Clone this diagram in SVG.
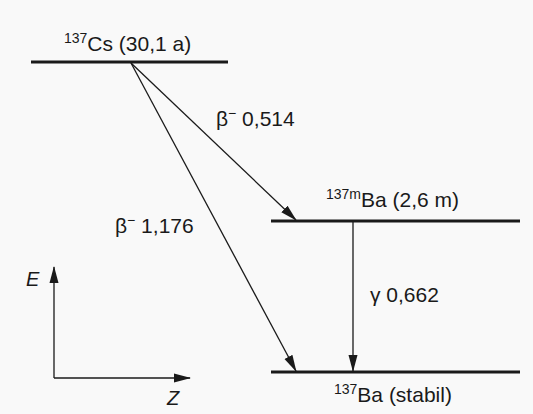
<svg xmlns="http://www.w3.org/2000/svg" width="533" height="414" viewBox="0 0 533 414">
<defs>
<style>
text{font-family:"Liberation Sans",Arial,sans-serif;font-size:21px;fill:#1a1a1a}
.sup{font-size:14px}
.lvl{stroke:#1a1a1a;stroke-width:3;fill:none}
.arr{stroke:#1a1a1a;stroke-width:1.3;fill:none;marker-end:url(#ah)}
.ax{font-style:italic;font-size:20px}
</style>
<marker id="ah" markerUnits="userSpaceOnUse" markerWidth="17" markerHeight="10" viewBox="0 0 17 10" refX="16" refY="5" orient="auto">
<path d="M0,0.5 L17,5 L0,9.5 Z" fill="#1a1a1a"/>
</marker>
</defs>
<rect width="533" height="414" fill="#f9f9f9"/>
<g id="cs137">
<line class="lvl" x1="31" y1="62" x2="228" y2="62"/>
<text x="64" y="51"><tspan class="sup" dy="-8">137</tspan><tspan dy="8">Cs (30,1 a)</tspan></text>
</g>
<g id="ba137m">
<line class="lvl" x1="271" y1="221" x2="520" y2="221"/>
<text x="326" y="207"><tspan class="sup" dy="-8">137m</tspan><tspan dy="8">Ba (2,6 m)</tspan></text>
</g>
<g id="ba137">
<line class="lvl" x1="271" y1="372" x2="520" y2="372"/>
<text x="334" y="402"><tspan class="sup" dy="-8">137</tspan><tspan dy="8">Ba (stabil)</tspan></text>
</g>
<g id="axes">
<line class="arr" x1="54" y1="378" x2="54" y2="267"/>
<line class="arr" x1="54" y1="378" x2="190" y2="378"/>
<text class="ax" x="26" y="286">E</text>
<text class="ax" x="167" y="405">Z</text>
</g>
<g id="connectors">
<line class="arr" x1="131" y1="63" x2="296" y2="220"/>
<line class="arr" x1="131" y1="63" x2="296" y2="371"/>
<line class="arr" x1="353" y1="222" x2="353" y2="371"/>
<text x="216" y="126">β<tspan class="sup" dy="-8">−</tspan><tspan dy="8"> 0,514</tspan></text>
<text x="115" y="233">β<tspan class="sup" dy="-8">−</tspan><tspan dy="8"> 1,176</tspan></text>
<text x="370" y="302">γ 0,662</text>
</g>
</svg>
